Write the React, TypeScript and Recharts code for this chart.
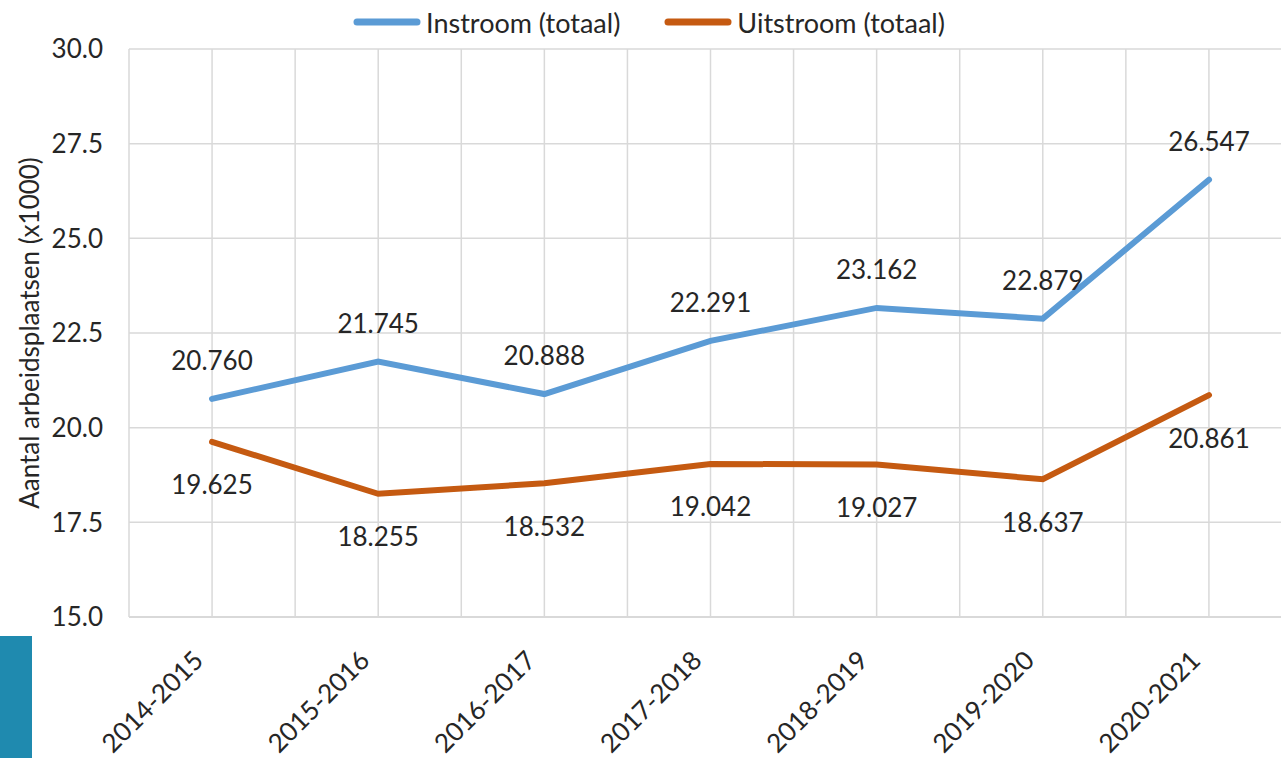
import React from "react";
import {
  LineChart,
  Line,
  XAxis,
  YAxis,
  CartesianGrid,
  Legend,
  LabelList,
} from "recharts";

const periods = [
  "2014-2015",
  "2015-2016",
  "2016-2017",
  "2017-2018",
  "2018-2019",
  "2019-2020",
  "2020-2021",
];
const instroom = [20.76, 21.745, 20.888, 22.291, 23.162, 22.879, 26.547];
const uitstroom = [19.625, 18.255, 18.532, 19.042, 19.027, 18.637, 20.861];
const yTicks = [15, 17.5, 20, 22.5, 25, 27.5, 30];
const gridTicks = [0, 1, 2, 3, 4, 5, 6, 7, 8, 9, 10, 11, 12, 13, 14];

const BLUE = "#5B9BD5";
const ORANGE = "#C55A11";
const TEXT = "#262626";
const FONT = "Lato, 'Open Sans', sans-serif";

const data = periods.map((period, i) => ({
  period,
  slot: i * 2 + 1,
  instroom: instroom[i],
  uitstroom: uitstroom[i],
}));

const fmt3 = (v: number) => v.toFixed(3);

const XTick = (props: any) => {
  const { x, y, payload } = props;
  const ax = x - 7;
  const ay = y + 37;
  return (
    <text
      x={ax}
      y={ay}
      transform={`rotate(-45, ${ax}, ${ay})`}
      textAnchor="end"
      fontSize={26}
      fill={TEXT}
      fontFamily={FONT}
    >
      {payload.value}
    </text>
  );
};

const LegendContent = () => {
  const items = [
    { name: "Instroom (totaal)", color: BLUE },
    { name: "Uitstroom (totaal)", color: ORANGE },
  ];
  return (
    <div
      style={{
        display: "flex",
        justifyContent: "center",
        alignItems: "center",
        height: 36,
        gap: 44,
        paddingRight: 24,
        fontFamily: FONT,
        fontSize: 27,
        color: TEXT,
      }}
    >
      {items.map((it) => (
        <div key={it.name} style={{ display: "flex", alignItems: "center" }}>
          <svg width={68} height={10} style={{ marginRight: 5 }}>
            <line
              x1={4}
              y1={5}
              x2={64}
              y2={5}
              stroke={it.color}
              strokeWidth={7}
              strokeLinecap="round"
            />
          </svg>
          <span>{it.name}</span>
        </div>
      ))}
    </div>
  );
};

const YLabel = (props: any) => {
  const { viewBox } = props;
  const cx = 29;
  const cy = viewBox.y + viewBox.height / 2;
  return (
    <text
      x={cx}
      y={cy}
      transform={`rotate(-90, ${cx}, ${cy})`}
      textAnchor="middle"
      dominantBaseline="central"
      fontSize={26}
      fill={TEXT}
      fontFamily={FONT}
    >
      Aantal arbeidsplaatsen (x1000)
    </text>
  );
};

export default function App() {
  return (
    <div
      style={{
        position: "absolute",
        left: 0,
        top: 0,
        width: 1281,
        height: 758,
        overflow: "hidden",
        background: "#fff",
        fontFamily: FONT,
      }}
    >
      <LineChart
        width={1300}
        height={758}
        data={data}
        margin={{ top: 13, right: 8, left: 30, bottom: 0 }}
      >
        <CartesianGrid stroke="#D9D9D9" strokeWidth={1.5} xAxisId="grid" />
        <XAxis
          xAxisId="grid"
          dataKey="slot"
          type="number"
          domain={[0, 14]}
          ticks={gridTicks}
          allowDataOverflow
          hide
        />
        <XAxis
          dataKey="period"
          padding={{ left: 83, right: 83 }}
          height={141}
          axisLine={{ stroke: "#D9D9D9", strokeWidth: 2 }}
          tickLine={false}
          interval={0}
          tick={<XTick />}
        />
        <YAxis
          domain={[15, 30]}
          ticks={yTicks}
          width={99}
          axisLine={false}
          tickLine={false}
          tickSize={0}
          tickMargin={26}
          tickFormatter={(v: number) => v.toFixed(1)}
          tick={{ fontSize: 26, fill: TEXT, fontFamily: FONT }}
          label={<YLabel />}
        />
        <Legend
          verticalAlign="top"
          wrapperStyle={{ top: 4 }}
          content={<LegendContent />}
        />
        <Line
          xAxisId={0}
          dataKey="instroom"
          name="Instroom (totaal)"
          stroke={BLUE}
          strokeWidth={6}
          strokeLinecap="round"
          dot={false}
          type="linear"
          isAnimationActive={false}
        >
          <LabelList
            dataKey="instroom"
            position="top"
            offset={29}
            formatter={fmt3}
            style={{ fontSize: 26, fill: TEXT, fontFamily: FONT }}
          />
        </Line>
        <Line
          xAxisId={0}
          dataKey="uitstroom"
          name="Uitstroom (totaal)"
          stroke={ORANGE}
          strokeWidth={6}
          strokeLinecap="round"
          dot={false}
          type="linear"
          isAnimationActive={false}
        >
          <LabelList
            dataKey="uitstroom"
            position="bottom"
            offset={34}
            formatter={fmt3}
            style={{ fontSize: 26, fill: TEXT, fontFamily: FONT }}
          />
        </Line>
      </LineChart>
      <div
        style={{
          position: "absolute",
          left: 0,
          top: 636,
          width: 32,
          height: 122,
          background: "#1F8AAF",
        }}
      />
    </div>
  );
}
